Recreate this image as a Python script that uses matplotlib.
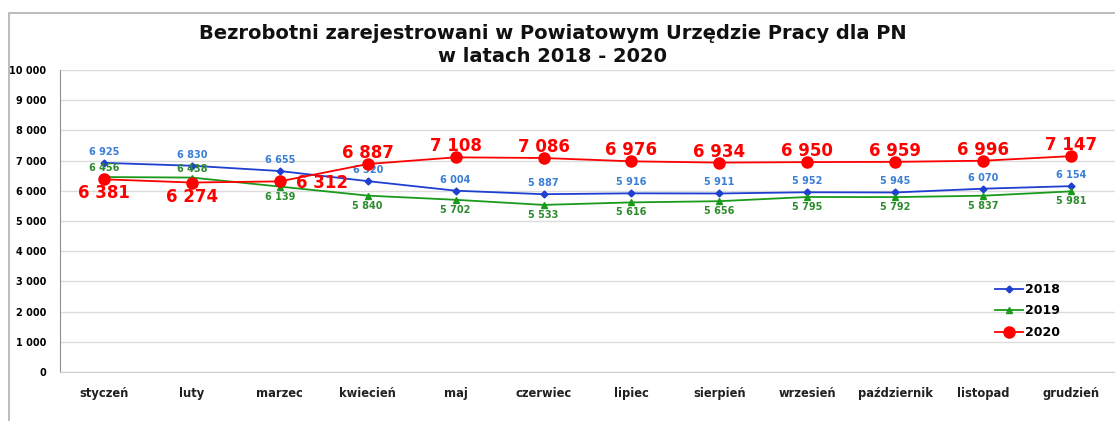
import matplotlib
matplotlib.use("Agg")
import matplotlib.pyplot as plt
from matplotlib.patches import Rectangle
import numpy as np

# dane
miesiace = ["styczeń", "luty", "marzec", "kwiecień", "maj", "czerwiec", "lipiec",
            "sierpień", "wrzesień", "październik", "listopad", "grudzień"]
lata = ["2018", "2019", "2020"]
bezrobotni_2018 = [6925, 6830, 6655, 6320, 6004, 5887, 5916, 5911, 5952, 5945, 6070, 6154]
bezrobotni_2019 = [6456, 6438, 6139, 5840, 5702, 5533, 5616, 5656, 5795, 5792, 5837, 5981]
bezrobotni_2020 = [6381, 6274, 6312, 6887, 7108, 7086, 6976, 6934, 6950, 6959, 6996, 7147]
y_ticks = [0, 1000, 2000, 3000, 4000, 5000, 6000, 7000, 8000, 9000, 10000]

def fmt(v):
    return "{:,}".format(v).replace(",", " ")

plt.rcParams['font.family'] = ['DejaVu Sans']

fig = plt.figure(figsize=(11.15, 4.21), dpi=100)
W, H = 1115, 421
ax = fig.add_axes([60 / W, 1 - 372 / H, 1055 / W, 302 / H])

# ramka wykresu
fig.patches.append(Rectangle((9 / W, -0.1), 1.2, 1.1 - 13 / H, transform=fig.transFigure,
                             fill=False, edgecolor="#b0b0b0", linewidth=1.2))

x = np.arange(len(miesiace))
ax.plot(x, bezrobotni_2018, color="#1f3fd0", marker="D", markersize=3.5, linewidth=1.3, label=lata[0], zorder=3)
ax.plot(x, bezrobotni_2019, color="#1a9a1a", marker="^", markersize=5, linewidth=1.3, label=lata[1], zorder=3)
ax.plot(x, bezrobotni_2020, color="#ff0000", marker="o", markersize=8, linewidth=1.3, label=lata[2], zorder=4)

ax.set_xlim(-0.5, 11.5)
ax.set_ylim(0, 10000)
ax.set_yticks(y_ticks)
ax.set_yticklabels([fmt(v) for v in y_ticks], fontsize=7, fontweight="bold")
ax.set_xticks(x)
ax.set_xticklabels(miesiace, fontsize=8.3, fontweight="bold", color="#202020")
ax.tick_params(length=0, pad=11)
ax.tick_params(axis="y", pad=10)
ax.grid(axis="y", color="#dcdcdc", linewidth=1)
ax.set_axisbelow(True)
for s in ["top", "right"]:
    ax.spines[s].set_visible(False)
ax.spines["left"].set_color("#909090")
ax.spines["bottom"].set_color("#d0d0d0")

# etykiety danych
for i, v in enumerate(bezrobotni_2018):
    ax.annotate(fmt(v), (i, v), xytext=(0, 11), textcoords="offset pixels", ha="center", va="center",
                fontsize=7, fontweight="bold", color="#3a7fd5")
for i, v in enumerate(bezrobotni_2019):
    dy = 9 if i < 2 else -10
    ax.annotate(fmt(v), (i, v), xytext=(0, dy), textcoords="offset pixels", ha="center", va="center",
                fontsize=7, fontweight="bold", color="#2e8b2e")
for i, v in enumerate(bezrobotni_2020):
    if i < 2:
        off = (0, -14)
    elif i == 2:
        off = (42, -2)
    else:
        off = (0, 11)
    ax.annotate(fmt(v), (i, v), xytext=off, textcoords="offset pixels", ha="center", va="center",
                fontsize=12, fontweight="bold", color="#ff0000")

fig.text(553 / W, 1 - 45 / H, "Bezrobotni zarejestrowani w Powiatowym Urzędzie Pracy dla PN\nw latach 2018 - 2020",
         ha="center", va="center", fontsize=14, fontweight="bold", linespacing=1.3, color="#111111")

leg = ax.legend(loc="upper left", bbox_to_anchor=(990 / W, 1 - 278 / H), bbox_transform=fig.transFigure,
                frameon=False, prop={"weight": "bold", "size": 9}, handlelength=2.2, handletextpad=0.2,
                labelspacing=0.68, borderaxespad=0)

fig.savefig("out.png", dpi=100)
